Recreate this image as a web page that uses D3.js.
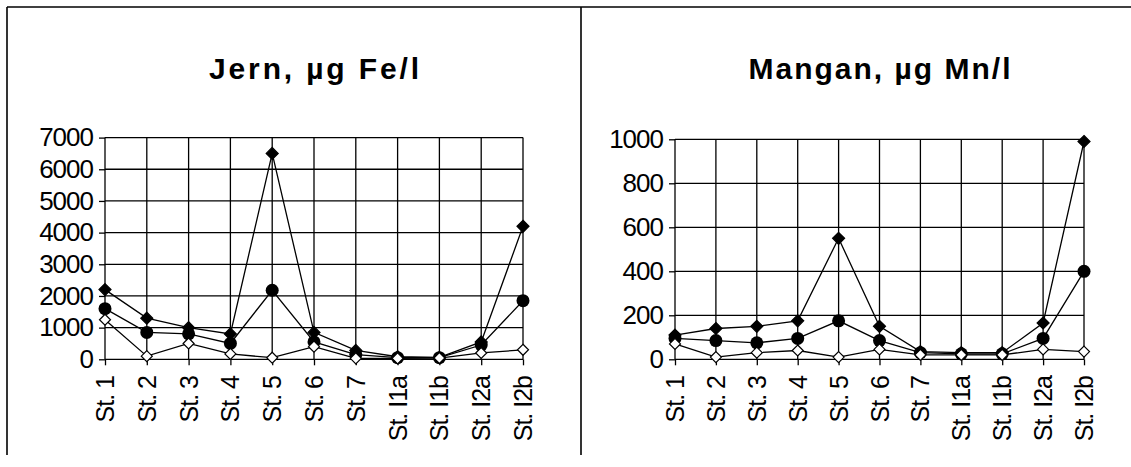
<!DOCTYPE html>
<html>
<head>
<meta charset="utf-8">
<script src="https://cdn.jsdelivr.net/npm/d3@7"></script>
<style>
  body { margin: 0; background: #fff; }
  svg { display: block; }
  text { font-family: "Liberation Sans", Arial, sans-serif; fill: #000; }
</style>
</head>
<body>
<script>

// stasjoner
var stations = ["St. 1", "St. 2", "St. 3", "St. 4", "St. 5", "St. 6", "St. 7",
  "St. I1a", "St. I1b", "St. I2a", "St. I2b"];

// Jern, µg Fe/l
var jernMaks   = [2200, 1300, 1000, 800, 6500, 850, 280, 80, 60, 550, 4200];
var jernMiddel = [1600, 850, 800, 500, 2180, 550, 150, 50, 50, 450, 1850];
var jernMin    = [1250, 100, 500, 170, 50, 400, 30, 30, 40, 200, 300];
var jernTicks  = [0, 1000, 2000, 3000, 4000, 5000, 6000, 7000];

// Mangan, µg Mn/l
var manganMaks   = [110, 140, 150, 175, 550, 150, 35, 30, 30, 165, 990];
var manganMiddel = [95, 85, 75, 95, 175, 85, 30, 25, 25, 95, 400];
var manganMin    = [70, 10, 30, 40, 10, 45, 20, 20, 20, 45, 35];
var manganTicks  = [0, 200, 400, 600, 800, 1000];

var width = 1131, height = 467;

var svg = d3.select("body").append("svg")
  .attr("width", width)
  .attr("height", height);

// ramme
var frame = svg.append("g").attr("class", "frame")
  .style("stroke", "#000").style("stroke-width", 1.6);
frame.append("line").attr("x1", 7).attr("x2", width).attr("y1", 7).attr("y2", 7);
frame.append("line").attr("x1", 7).attr("x2", 7).attr("y1", 7).attr("y2", 455);
frame.append("line").attr("x1", 581).attr("x2", 581).attr("y1", 7).attr("y2", 455);

var diamond = function(r){ return "M0," + (-r) + "L" + r + ",0L0," + r + "L" + (-r) + ",0Z"; };

function drawPanel(cfg){
  var g = svg.append("g").attr("class", "panel");

  var x = d3.scalePoint().domain(stations).range([cfg.left, cfg.right]);
  var y = d3.scaleLinear().domain([0, d3.max(cfg.ticks)]).range([359.3, cfg.top]);

  // tittel
  g.append("text")
    .attr("x", (cfg.left + cfg.right) / 2 - cfg.titleLen / 2)
    .attr("y", 79)
    .attr("textLength", cfg.titleLen)
    .attr("lengthAdjust", "spacing")
    .style("font-size", "30px")
    .style("font-weight", "bold")
    .text(cfg.title);

  // rutenett
  var grid = g.append("g").style("stroke", "#000").style("stroke-width", 1.3);
  grid.selectAll(".h").data(cfg.ticks).enter().append("line")
    .attr("x1", cfg.left).attr("x2", cfg.right)
    .attr("y1", function(d){ return y(d); }).attr("y2", function(d){ return y(d); });
  grid.selectAll(".v").data(stations).enter().append("line")
    .attr("x1", function(d){ return x(d); }).attr("x2", function(d){ return x(d); })
    .attr("y1", y(d3.max(cfg.ticks))).attr("y2", y(0));

  // y-akse
  var yAxis = g.append("g")
    .attr("transform", "translate(" + cfg.left + ",0)")
    .call(d3.axisLeft(y).tickValues(cfg.ticks).tickSize(6).tickPadding(6).tickFormat(d3.format("d")));
  yAxis.select(".domain").remove();
  yAxis.selectAll("line").style("stroke", "#000").style("stroke-width", 1.3);
  yAxis.selectAll("text").style("font-size", "26px").attr("font-family", null)
    .style("letter-spacing", "-1px");

  // x-akse
  var xAxis = g.append("g")
    .attr("transform", "translate(0," + y(0) + ")")
    .call(d3.axisBottom(x).tickSize(6).tickFormat(""));
  xAxis.select(".domain").remove();
  xAxis.selectAll("line").style("stroke", "#000").style("stroke-width", 1.3);

  g.selectAll(".xlab").data(stations).enter().append("text")
    .attr("transform", function(d){ return "translate(" + x(d) + ",376) rotate(-90)"; })
    .attr("dy", "0.36em")
    .attr("text-anchor", "end")
    .style("font-size", "25px")
    .style("letter-spacing", "-1px")
    .text(function(d){ return d; });

  var line = d3.line()
    .x(function(d, i){ return x(stations[i]); })
    .y(function(d){ return y(d); });

  var series = [
    {values: cfg.maks, type: "diamond"},
    {values: cfg.middel, type: "circle"},
    {values: cfg.min, type: "open"}
  ];

  series.forEach(function(s){
    g.append("path")
      .datum(s.values)
      .attr("d", line)
      .style("fill", "none")
      .style("stroke", "#000")
      .style("stroke-width", 1.3);
  });

  series.forEach(function(s){
    var m = g.append("g").selectAll("path").data(s.values).enter();
    if(s.type === "circle"){
      m.append("circle")
        .attr("cx", function(d, i){ return x(stations[i]); })
        .attr("cy", function(d){ return y(d); })
        .attr("r", 6.5)
        .style("fill", "#000");
    }else{
      m.append("path")
        .attr("transform", function(d, i){ return "translate(" + x(stations[i]) + "," + y(d) + ")"; })
        .attr("d", diamond(s.type === "open" ? 5.5 : 6))
        .style("fill", s.type === "open" ? "#fff" : "#000")
        .style("stroke", "#000")
        .style("stroke-width", 1.2);
    }
  });
}

drawPanel({
  title: "Jern, µg Fe/l", titleLen: 210,
  left: 105, right: 523, top: 137.6,
  ticks: jernTicks, maks: jernMaks, middel: jernMiddel, min: jernMin
});

drawPanel({
  title: "Mangan, µg Mn/l", titleLen: 262,
  left: 675, right: 1084, top: 139.3,
  ticks: manganTicks, maks: manganMaks, middel: manganMiddel, min: manganMin
});

</script>
</body>
</html>
